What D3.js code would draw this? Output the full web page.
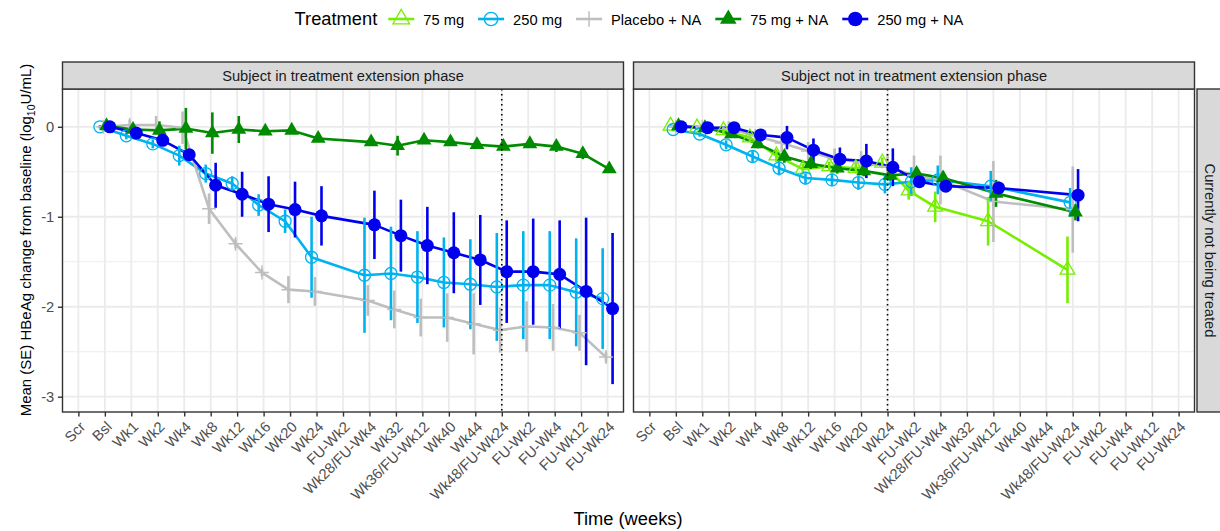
<!DOCTYPE html>
<html><head><meta charset="utf-8">
<script src="https://cdn.jsdelivr.net/npm/d3@7"></script>
<style>
body{margin:0;background:#fff;}
svg{font-family:"Liberation Sans",Arial,sans-serif;}
</style></head><body>
<svg id="chart" width="1220" height="531"></svg>
<script>
// ---------------- DATA ----------------
const categories = ["Scr","Bsl","Wk1","Wk2","Wk4","Wk8","Wk12","Wk16","Wk20","Wk24","FU-Wk2","Wk28/FU-Wk4","Wk32","Wk36/FU-Wk12","Wk40","Wk44","Wk48/FU-Wk24","FU-Wk2","FU-Wk4","FU-Wk12","FU-Wk24"];
const series = ["75 mg","250 mg","Placebo + NA","75 mg + NA","250 mg + NA"];
const panelTitles = ["Subject in treatment extension phase","Subject not in treatment extension phase"];
const rowTitle = "Currently not being treated";
const refLineIndex = [16, 9];
const yTicks = [0, -1, -2, -3];
const yMinor = [-0.5, -1.5, -2.5];

// Panel 1: in treatment extension phase (index aligned with categories, null = no data)
const extMean_75  = [null,null,null,null,null,null,null,null,null,null,null,null,null,null,null,null,null,null,null,null,null];
const extSE_75    = [null,null,null,null,null,null,null,null,null,null,null,null,null,null,null,null,null,null,null,null,null];
const extMean_250 = [null,0.00,-0.10,-0.19,-0.32,-0.52,-0.63,-0.87,-1.05,-1.45,null,-1.65,-1.63,-1.67,-1.73,-1.75,-1.78,-1.76,-1.76,-1.84,-1.91];
const extSE_250   = [null,0.02,0.04,0.05,0.11,0.10,0.08,0.12,0.13,0.45,null,0.64,0.52,0.51,0.50,0.50,0.60,0.60,0.60,0.60,0.56];
const extMean_pbo = [null,0.00,0.02,0.02,-0.01,-0.91,-1.30,-1.62,-1.81,-1.83,null,-1.93,-2.03,-2.12,-2.12,-2.19,-2.26,-2.22,-2.23,-2.29,-2.56];
const extSE_pbo   = [null,0.01,0.06,0.10,0.18,0.17,0.05,0.04,0.15,0.16,null,0.17,0.21,0.21,0.27,0.34,0.25,0.28,0.26,0.20,0.06];
const extMean_75NA  = [null,0.01,-0.03,-0.04,-0.02,-0.07,-0.03,-0.05,-0.04,-0.13,null,-0.17,-0.21,-0.15,-0.17,-0.20,-0.22,-0.19,-0.22,-0.30,-0.47];
const extSE_75NA    = [null,0.02,0.04,0.10,0.23,0.23,0.15,0.04,0.04,0.04,null,0.03,0.11,0.03,0.03,0.03,0.03,0.03,0.06,0.06,0.03];
const extMean_250NA = [null,0.00,-0.07,-0.15,-0.31,-0.65,-0.75,-0.86,-0.92,-0.99,null,-1.09,-1.21,-1.32,-1.40,-1.48,-1.61,-1.61,-1.64,-1.83,-2.02];
const extSE_250NA   = [null,0.01,0.03,0.04,0.05,0.25,0.25,0.31,0.31,0.33,null,0.38,0.40,0.43,0.45,0.50,0.57,0.59,0.60,0.82,0.84];

// Panel 2: not in treatment extension phase
const noMean_75  = [null,0.01,-0.01,-0.04,-0.12,-0.32,-0.47,-0.44,-0.46,-0.40,-0.71,-0.89,null,-1.05,null,null,-1.59,null,null,null,null];
const noSE_75    = [null,0.02,0.03,0.04,0.05,0.07,0.06,0.05,0.06,0.06,0.10,0.17,null,0.27,null,null,0.37,null,null,null,null];
const noMean_250 = [null,-0.03,-0.08,-0.20,-0.33,-0.46,-0.57,-0.59,-0.62,-0.64,-0.61,-0.59,null,-0.66,null,null,-0.84,null,null,null,null];
const noSE_250   = [null,0.02,0.03,0.05,0.06,0.08,0.07,0.07,0.08,0.10,0.16,0.16,null,0.17,null,null,0.16,null,null,null,null];
const noMean_pbo = [null,0.00,0.00,-0.02,-0.10,-0.18,-0.27,-0.36,-0.39,-0.44,-0.54,-0.59,null,-0.83,null,null,-0.92,null,null,null,null];
const noSE_pbo   = [null,0.01,0.02,0.08,0.05,0.10,0.10,0.12,0.12,0.14,0.22,0.27,null,0.45,null,null,0.48,null,null,null,null];
const noMean_75NA  = [null,0.01,-0.01,-0.08,-0.19,-0.33,-0.41,-0.46,-0.49,-0.54,-0.52,-0.57,null,-0.74,null,null,-0.95,null,null,null,null];
const noSE_75NA    = [null,0.02,0.02,0.04,0.05,0.07,0.06,0.06,0.06,0.06,0.07,0.07,null,0.15,null,null,0.09,null,null,null,null];
const noMean_250NA = [null,0.00,-0.01,-0.01,-0.09,-0.12,-0.26,-0.36,-0.38,-0.45,-0.61,-0.66,null,-0.68,null,null,-0.76,null,null,null,null];
const noSE_250NA   = [null,0.01,0.02,0.03,0.04,0.13,0.13,0.13,0.19,0.21,0.07,0.06,null,0.07,null,null,0.29,null,null,null,null];

// ---------------- STYLE ----------------
const colors = ["#76EE00","#00B2EE","#BEBEBE","#008B00","#0000EE"];
const shapes = ["triangleOpen","circleOpen","plus","triangle","circle"];

const panelData = [
  [[extMean_75,extSE_75],[extMean_250,extSE_250],[extMean_pbo,extSE_pbo],[extMean_75NA,extSE_75NA],[extMean_250NA,extSE_250NA]],
  [[noMean_75,noSE_75],[noMean_250,noSE_250],[noMean_pbo,noSE_pbo],[noMean_75NA,noSE_75NA],[noMean_250NA,noSE_250NA]]
];

const svg = d3.select("#chart");
const panelX = [[62.5, 623.5],[633.5, 1194.5]];
const panelTop = 89, panelBottom = 412, stripTop = 62;
const y = d3.scaleLinear().domain([-3.17, 0.42]).range([panelBottom, panelTop]);
const idx = d3.range(categories.length);

function drawMarker(g, shape, color, cx, cy, s = 1) {
  if (shape === "circle") {
    g.append("circle").attr("cx",cx).attr("cy",cy).attr("r",6.5*s).attr("fill",color);
  } else if (shape === "circleOpen") {
    g.append("circle").attr("cx",cx).attr("cy",cy).attr("r",6*s).attr("fill","none").attr("stroke",color).attr("stroke-width",1.3);
  } else if (shape === "triangle") {
    g.append("path").attr("d", d3.symbol(d3.symbolTriangle, 95*s*s)()).attr("transform",`translate(${cx},${cy})`).attr("fill",color);
  } else if (shape === "triangleOpen") {
    g.append("path").attr("d", d3.symbol(d3.symbolTriangle, 95*s*s)()).attr("transform",`translate(${cx},${cy})`).attr("fill","none").attr("stroke",color).attr("stroke-width",1.3);
  } else if (shape === "plus") {
    const h = 7*s;
    g.append("path").attr("d", `M${cx-h},${cy}H${cx+h}M${cx},${cy-h}V${cy+h}`).attr("stroke",color).attr("stroke-width",1.5).attr("fill","none");
  }
}

panelData.forEach((pdata, p) => {
  const [x0, x1] = panelX[p];
  const x = d3.scalePoint().domain(idx).range([x0, x1]).padding(0.6);
  const step = x.step();
  const g = svg.append("g");

  // background + grid
  g.append("rect").attr("x",x0).attr("y",panelTop).attr("width",x1-x0).attr("height",panelBottom-panelTop).attr("fill","#fff");
  yMinor.forEach(v => g.append("line").attr("x1",x0).attr("x2",x1).attr("y1",y(v)).attr("y2",y(v)).attr("stroke","#EBEBEB").attr("stroke-width",0.9));
  yTicks.forEach(v => g.append("line").attr("x1",x0).attr("x2",x1).attr("y1",y(v)).attr("y2",y(v)).attr("stroke","#EBEBEB").attr("stroke-width",1.8));
  idx.forEach(i => g.append("line").attr("x1",x(i)).attr("x2",x(i)).attr("y1",panelTop).attr("y2",panelBottom).attr("stroke","#EBEBEB").attr("stroke-width",1.8));

  // dodge positions
  const pos = pdata.map(() => []);
  idx.forEach(i => {
    const present = pdata.map((s, k) => s[0][i] != null ? k : -1).filter(k => k >= 0);
    const n = present.length;
    present.forEach((k, r) => { pos[k][i] = x(i) + (r + 1 - (n + 1) / 2) * (0.5 / n) * step; });
  });

  const line = d3.line().x(d => d.x).y(d => y(d.m));
  const pts = pdata.map((s, k) => idx.filter(i => s[0][i] != null).map(i => ({x: pos[k][i], m: s[0][i], se: s[1][i]})));

  // lines
  pts.forEach((arr, k) => { if (arr.length) g.append("path").attr("d", line(arr)).attr("fill","none").attr("stroke",colors[k]).attr("stroke-width",2.6).attr("stroke-linejoin","round"); });
  // error bars
  pts.forEach((arr, k) => arr.forEach(d => g.append("line").attr("x1",d.x).attr("x2",d.x).attr("y1",y(d.m+d.se)).attr("y2",y(d.m-d.se)).attr("stroke",colors[k]).attr("stroke-width",2.6)));
  // points
  pts.forEach((arr, k) => arr.forEach(d => drawMarker(g, shapes[k], colors[k], d.x, y(d.m))));

  // reference dotted line
  g.append("line").attr("x1",x(refLineIndex[p])).attr("x2",x(refLineIndex[p])).attr("y1",panelTop).attr("y2",panelBottom)
    .attr("stroke","#000").attr("stroke-width",1.6).attr("stroke-dasharray","1.6,3.4");

  // panel border
  g.append("rect").attr("x",x0).attr("y",panelTop).attr("width",x1-x0).attr("height",panelBottom-panelTop).attr("fill","none").attr("stroke","#333").attr("stroke-width",1.4);

  // top strip
  g.append("rect").attr("x",x0).attr("y",stripTop).attr("width",x1-x0).attr("height",panelTop-stripTop).attr("fill","#D9D9D9").attr("stroke","#333").attr("stroke-width",1.4);
  g.append("text").attr("x",(x0+x1)/2).attr("y",(stripTop+panelTop)/2).attr("text-anchor","middle").attr("dominant-baseline","central")
    .attr("font-size",14.7).attr("fill","#1A1A1A").text(panelTitles[p]);

  // x axis
  const ax = svg.append("g").attr("transform",`translate(0,${panelBottom})`)
    .call(d3.axisBottom(x).tickSize(4.6).tickSizeOuter(0).tickFormat(i => categories[i]));
  ax.select(".domain").remove();
  ax.selectAll(".tick line").attr("stroke","#333").attr("stroke-width",1.4);
  ax.selectAll(".tick text").attr("x",0).attr("y",0).attr("dy","0.71em")
    .attr("transform","translate(0,8.3) rotate(-45)").attr("text-anchor","end")
    .attr("font-size",14.7).attr("fill","#4D4D4D").attr("font-family","Liberation Sans, Arial, sans-serif");

  if (p === 0) {
    const ay = svg.append("g").attr("transform",`translate(${x0},0)`)
      .call(d3.axisLeft(y).tickValues(yTicks).tickSize(4.6).tickSizeOuter(0).tickFormat(d => String(d)));
    ay.select(".domain").remove();
    ay.selectAll(".tick line").attr("stroke","#333").attr("stroke-width",1.4);
    ay.selectAll(".tick text").attr("x",-8.3).attr("font-size",14.7).attr("fill","#4D4D4D").attr("font-family","Liberation Sans, Arial, sans-serif");
  }
});

// right strip
const rs = svg.append("g");
rs.append("rect").attr("x",1197).attr("y",panelTop).attr("width",30).attr("height",panelBottom-panelTop).attr("fill","#D9D9D9").attr("stroke","#333").attr("stroke-width",1.4);
rs.append("text").attr("transform",`translate(1210,${(panelTop+panelBottom)/2}) rotate(90)`).attr("text-anchor","middle").attr("dominant-baseline","central")
  .attr("font-size",14.7).attr("fill","#1A1A1A").text(rowTitle);

// axis titles
svg.append("text").attr("x",628).attr("y",525).attr("text-anchor","middle").attr("font-size",18.3).attr("fill","#000").text("Time (weeks)");
const yt = svg.append("text").attr("transform","translate(31,240) rotate(-90)").attr("text-anchor","middle").attr("font-size",15).attr("fill","#000");
yt.append("tspan").text("Mean (SE) HBeAg change from baseline (log");
yt.append("tspan").attr("font-size",10.5).attr("dy",3.5).text("10");
yt.append("tspan").attr("dy",-3.5).text("U/mL)");

// legend
const lg = svg.append("g");
const title = lg.append("text").attr("x",0).attr("y",25).attr("font-size",18.3).attr("fill","#000").text("Treatment");
let cur = title.node().getComputedTextLength();
series.forEach((s, k) => {
  const kc = cur + (k === 0 ? 24 : 27);
  const kg = lg.append("g");
  kg.append("line").attr("x1",kc-13).attr("x2",kc+13).attr("y1",19).attr("y2",19).attr("stroke",colors[k]).attr("stroke-width",2.6);
  drawMarker(kg, shapes[k], colors[k], kc, 19, 1.12);
  const t = lg.append("text").attr("x",kc+22).attr("y",24.5).attr("font-size",14.7).attr("fill","#000").text(s);
  cur = kc + 22 + t.node().getComputedTextLength();
});
lg.attr("transform",`translate(${629 - cur/2},0)`);
</script>
</body></html>
